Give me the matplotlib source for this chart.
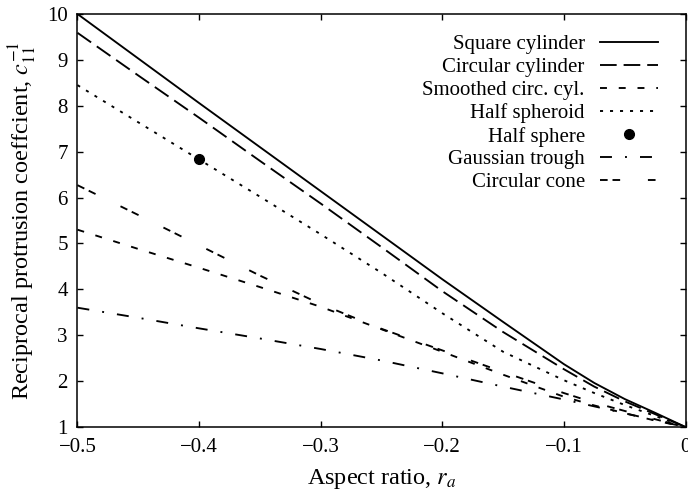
import numpy as np
import matplotlib
matplotlib.use('Agg')
import matplotlib.pyplot as plt

# aspect ratio values where the curves were read
r_a = [-0.5, -0.45, -0.4, -0.35, -0.3, -0.25, -0.2, -0.15, -0.1,
       -0.075, -0.05, -0.025, 0.0]

square_cyl = [10.0, 9.03, 8.06, 7.10, 6.14, 5.18, 4.22, 3.29, 2.37,
              1.96, 1.61, 1.31, 1.0]
circ_cyl = [9.59, 8.66, 7.74, 6.80, 5.87, 4.92, 3.96, 3.07, 2.26,
            1.88, 1.56, 1.28, 1.0]
smooth_cyl = [5.30, 4.88, 4.47, 4.05, 3.62, 3.13, 2.64, 2.14, 1.66,
              1.47, 1.30, 1.14, 1.0]
half_spheroid = [8.45, 7.64, 6.83, 6.02, 5.20, 4.36, 3.48, 2.64, 2.02,
                 1.74, 1.48, 1.24, 1.0]
gauss_trough = [3.60, 3.38, 3.15, 2.93, 2.70, 2.45, 2.17, 1.88, 1.60,
                1.45, 1.30, 1.15, 1.0]
circ_cone = [6.27, 5.62, 4.96, 4.30, 3.68, 3.14, 2.67, 2.20, 1.74,
             1.53, 1.35, 1.17, 1.0]

# single point for the half sphere
sphere_x = [-0.4]
sphere_y = [6.83]

xticks = [-0.5, -0.4, -0.3, -0.2, -0.1, 0.0]
xtick_labels = ['\u22120.5', '\u22120.4', '\u22120.3', '\u22120.2', '\u22120.1', '0']
yticks = [1, 2, 3, 4, 5, 6, 7, 8, 9, 10]

plt.rcParams['font.family'] = ['Liberation Serif', 'DejaVu Serif']
plt.rcParams['mathtext.fontset'] = 'stix'
plt.rcParams['lines.scale_dashes'] = False

fig = plt.figure(figsize=(6.88, 4.91), dpi=100)
ax = fig.add_axes([0.1126, 0.1303, 0.8838, 0.8412])

lw = 1.35
ax.plot(r_a, square_cyl, color='black', lw=lw, label='Square cylinder')
ax.plot(r_a, circ_cyl, color='black', lw=lw, dashes=(12, 5),
        label='Circular cylinder')
ax.plot(r_a, smooth_cyl, color='black', lw=lw, dashes=(5, 8.5),
        label='Smoothed circ. cyl.')
ax.plot(r_a, half_spheroid, color='black', lw=lw, dashes=(2.2, 5),
        label='Half spheroid')
ax.plot(sphere_x, sphere_y, 'o', color='black', ms=7, label='Half sphere')
ax.plot(r_a, gauss_trough, color='black', lw=lw, dashes=(8.6, 9.4, 1.4, 9.4),
        label='Gaussian trough')
ax.plot(r_a, circ_cone, color='black', lw=lw, dashes=(5.5, 3.5, 5.5, 20),
        label='Circular cone')

ax.set_xlim(-0.5, 0)
ax.set_ylim(1, 10)
ax.set_xticks(xticks)
ax.set_xticklabels(xtick_labels)
ax.set_yticks(yticks)
ax.tick_params(direction='in', length=4, width=1, top=True, right=True,
               labelsize=15)
ax.tick_params(axis='x', pad=8)
ax.tick_params(axis='y', pad=7)
for s in ax.spines.values():
    s.set_linewidth(1.1)

ax.set_xlabel('Aspect ratio, $r_a$', fontsize=17.5, labelpad=7)
ax.set_ylabel('Reciprocal protrusion coeffcient, $c_{11}^{-1}$',
              fontsize=17.5, labelpad=6)

leg = ax.legend(loc='upper right', bbox_to_anchor=(0.955, 0.95),
                frameon=False, markerfirst=False, fontsize=15,
                handlelength=2.8, labelspacing=0.16, handletextpad=0.72,
                borderaxespad=0, borderpad=0)

plt.savefig('out.png', dpi=100)
